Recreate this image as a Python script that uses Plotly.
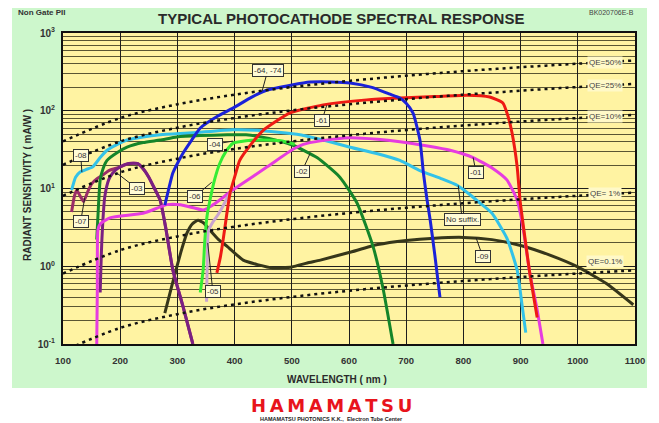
import plotly.graph_objects as go

# ---------------- data (wavelength nm, radiant sensitivity mA/W) ----------------
wl_6474 = [278, 285, 292, 300, 310, 325, 340, 370, 397, 430, 457, 500, 532, 570, 602, 640, 670, 689, 700, 712, 724, 730, 736, 742, 750, 759]
s_6474 = [6.1, 10, 15.8, 21, 28.6, 42, 60, 85, 108, 150, 185, 215, 234, 235, 228, 200, 165, 146, 125, 93, 42, 16, 7.5, 3.9, 1.4, 0.4]

wl_61 = [369, 375, 380, 386, 392, 400, 409, 430, 450, 497, 555, 631, 689, 750, 806, 846, 869, 878, 885, 894, 899, 908, 916, 929]
s_61 = [0.82, 1.3, 2.2, 4.5, 8.7, 14, 23, 38, 56, 94, 119, 138, 146, 152, 158, 150, 126, 85, 52, 19, 7.1, 2.2, 0.82, 0.22]

wl_01 = [159, 160, 161, 165, 182, 240, 282, 305, 330, 345, 360, 374, 392, 409, 457, 502, 520, 550, 602, 650, 689, 740, 777, 817, 852, 876, 894, 904, 916, 928, 939]
s_01 = [0.1, 0.5, 2.9, 3.5, 4.2, 4.8, 6.2, 6.2, 5.6, 5.3, 6.0, 7.1, 9.0, 11, 19, 32, 37, 41, 45, 43, 40, 35, 31, 25, 18, 12.9, 7.1, 3.2, 0.82, 0.3, 0.1]

wl_ns = [115, 122, 130, 140, 152, 165, 177, 195, 212, 240, 270, 327, 397, 439, 514, 560, 602, 650, 689, 724, 760, 789, 810, 829, 850, 876, 894, 902, 909]
s_ns = [9.5, 14, 16.3, 17.5, 19, 25, 31, 37, 42, 46, 49, 52, 57, 56, 49, 41, 34, 28, 23, 17, 13.5, 11, 8.5, 6.5, 4.8, 2.3, 0.89, 0.34, 0.14]

wl_02 = [159, 162, 165, 170, 177, 195, 212, 240, 270, 299, 340, 387, 420, 460, 502, 544, 584, 614, 642, 659, 677]
s_02 = [2.2, 6.0, 12.9, 18, 23, 29, 34, 39, 42, 46, 48, 49, 49, 44, 36, 25, 14, 6.5, 1.8, 0.54, 0.1]

wl_06 = [340, 345, 348, 352, 357, 365, 374, 385, 397, 420, 444, 480, 505]
s_06 = [0.46, 0.89, 2.2, 4.5, 7.1, 13, 21, 30, 38, 41, 42, 41, 37]

wl_05 = [351, 352, 354, 362, 371, 380, 388, 395]
s_05 = [0.35, 1.0, 2.8, 3.7, 4.6, 6.0, 7.8, 9.3]

wl_03 = [165, 168, 173, 180, 187, 200, 215, 230, 240, 250, 260, 270, 280, 292, 310, 327]
s_03 = [0.46, 2.2, 7.8, 13, 15.8, 19, 21, 21, 18, 14, 10, 7, 3.0, 0.9, 0.3, 0.1]

wl_07 = [115, 120, 124, 130, 136, 143, 150, 160, 170, 180, 190, 200, 215, 230, 240, 250, 260, 270, 280, 292, 310, 327]
s_07 = [5.0, 8.0, 9.5, 8.0, 6.8, 9.0, 11.5, 13.5, 15, 17, 18, 19, 21, 21, 18, 14, 10, 7, 3.0, 0.9, 0.3, 0.1]

wl_09 = [278, 290, 299, 308, 317, 326, 336, 346, 357, 372, 387, 415, 440, 467, 500, 527, 550, 600, 650, 700, 750, 800, 850, 900, 950, 1000, 1050, 1097]
s_09 = [0.25, 0.55, 0.98, 1.7, 2.7, 3.5, 3.9, 3.6, 2.9, 2.2, 1.8, 1.2, 1.05, 0.95, 0.98, 1.1, 1.2, 1.5, 1.9, 2.15, 2.3, 2.35, 2.2, 1.85, 1.4, 0.98, 0.6, 0.32]

# quantum-efficiency reference lines (mA/W at the given wavelengths)
wl_qe = [100, 200, 300, 400, 500, 600, 700, 800, 900, 1000, 1100]
qe50 = [40.3, 80.6, 121, 161, 202, 242, 282, 323, 363, 403, 444]
qe25 = [20.2, 40.3, 60.5, 80.6, 101, 121, 141, 161, 181, 202, 222]
qe10 = [8.06, 16.1, 24.2, 32.3, 40.3, 48.4, 56.5, 64.5, 72.6, 80.6, 88.7]
qe1 = [0.806, 1.61, 2.42, 3.23, 4.03, 4.84, 5.65, 6.45, 7.26, 8.06, 8.87]
qe01 = [0.0806, 0.161, 0.242, 0.323, 0.403, 0.484, 0.565, 0.645, 0.726, 0.806, 0.887]
qe_labels = ["QE=50%", "QE=25%", "QE=10%", "QE= 1%", "QE=0.1%"]

x_ticks = [100, 200, 300, 400, 500, 600, 700, 800, 900, 1000, 1100]
y_ticks = [0.1, 1, 10, 100, 1000]
y_ticktext = ["<b>10<sup>-1</sup></b>", "<b>10<sup>0</sup></b>", "<b>10<sup>1</sup></b>",
              "<b>10<sup>2</sup></b>", "<b>10<sup>3</sup></b>"]

# ---------------- figure ----------------
# the page body adds an 8px offset, so the figure is 8px smaller and
# reference page coordinates are shifted by 8px
OFF = 8
W, H = 659 - OFF, 423 - OFF
L, T = 63 - OFF, 33 - OFF
R = W - (635 - OFF)
B = H - (344 - OFF)
pw, ph = W - L - R, H - T - B


def px2paper(xp, yp):
    fx, fy = xp - OFF, yp - OFF
    return (fx - L) / pw, (H - B - fy) / ph


fig = go.Figure()

curves = [
    ("-09", wl_09, s_09, "#36361a"),
    ("-07", wl_07, s_07, "#9a2c68"),
    ("-03", wl_03, s_03, "#7a2082"),
    ("-08/No suffix", wl_ns, s_ns, "#33c2e8"),
    ("-02", wl_02, s_02, "#15852a"),
    ("-01", wl_01, s_01, "#e63ce0"),
    ("-05", wl_05, s_05, "#c9a4cf"),
    ("-06", wl_06, s_06, "#35ec35"),
    ("-61", wl_61, s_61, "#ee1a14"),
    ("-64,-74", wl_6474, s_6474, "#1b22d8"),
]
for name, xs, ys, col in curves:
    fig.add_trace(go.Scatter(x=xs, y=ys, mode="lines", name=name,
                             line=dict(color=col, width=3, shape="spline", smoothing=0.5),
                             hoverinfo="skip"))

for ys in [qe50, qe25, qe10, qe1, qe01]:
    fig.add_trace(go.Scatter(x=wl_qe, y=ys, mode="lines",
                             line=dict(color="#111", width=2.5, dash="3px,4px", shape="spline"),
                             hoverinfo="skip"))

# background panels
gx0, gy0 = px2paper(12, 4)
gx1, gy1 = px2paper(647, 388)
shapes = [
    dict(type="rect", xref="paper", yref="paper", x0=gx0, x1=gx1, y0=gy1, y1=gy0,
         fillcolor="#cdf7cc", line=dict(width=0), layer="below"),
    dict(type="rect", xref="paper", yref="paper", x0=0, x1=1, y0=0, y1=1,
         fillcolor="#fff3a2", line=dict(width=0), layer="below"),
]

ann = []


def ptext(xp, yp, text, size, color="#2a2a2a", family="Liberation Sans", xanchor="center", angle=0):
    ax_, ay_ = px2paper(xp, yp)
    ann.append(dict(x=ax_, y=ay_, xref="paper", yref="paper", showarrow=False,
                    xanchor=xanchor, yanchor="middle", textangle=angle, text=text,
                    font=dict(family=family, size=size, color=color)))


ptext(341, 18, "<b>TYPICAL PHOTOCATHODE SPECTRAL RESPONSE</b>", 15)
ptext(16, 13, "<b>Non Gate PII</b>", 8, "#333", xanchor="left")
ptext(636, 13, "BK020706E-B", 7, "#444", xanchor="right")
ptext(27, 185, "<b>RADIANT SENSITIVITY ( mA/W )</b>", 10, angle=-90)
ptext(337, 379, "<b>WAVELENGTH ( nm )</b>", 10)
ptext(331, 405, "<b>" + "\u2009".join("HAMAMATSU") + "</b>", 18, "#e8141c", family="DejaVu Sans")
ptext(331, 418.5, "<b>HAMAMATSU PHOTONICS K.K.,  Electron Tube Center</b>", 5.5, "#222")

# QE labels
qe_lab_y = [2.625, 2.33, 1.925, 0.93, 0.06]
for lab, yy in zip(qe_labels, qe_lab_y):
    ann.append(dict(x=1048, y=yy, xref="x", yref="y", showarrow=False, text=lab,
                    bgcolor="#fff9c8", borderpad=1,
                    font=dict(family="Liberation Sans", size=8, color="#444")))

# callouts: (text, tip x, tip log-y, text x, text log-y)
callouts = [
    ("-64, -74", 448, 2.25, 458, 2.52),
    ("-61", 561, 2.07, 553, 1.88),
    ("-04", 397, 1.61, 366, 1.57),
    ("-02", 532, 1.45, 518, 1.225),
    ("-01", 817, 1.40, 822, 1.21),
    ("-06", 360, 1.08, 331, 0.90),
    ("-05", 353, 0.30, 362, -0.33),
    ("-03", 194, 1.20, 229, 1.00),
    ("-07", 138, 0.88, 131, 0.58),
    ("-08", 133, 1.21, 131, 1.43),
    ("No suffix.", 791, 1.04, 798, 0.595),
    ("-09", 822, 0.37, 834, 0.12),
]
for t, x, y, axv, ayv in callouts:
    ann.append(dict(x=x, y=y, xref="x", yref="y", ax=axv, ay=ayv, axref="x", ayref="y",
                    text=t, showarrow=True, arrowhead=0, arrowwidth=1, arrowcolor="#222",
                    bgcolor="#fffbd6", bordercolor="#333", borderwidth=1, borderpad=1,
                    font=dict(family="Liberation Sans", size=8, color="#333")))

fig.update_layout(
    width=W, height=H,
    margin=dict(l=L, r=R, t=T, b=B, pad=0),
    paper_bgcolor="white", plot_bgcolor="rgba(0,0,0,0)",
    showlegend=False, shapes=shapes, annotations=ann,
    font=dict(family="Liberation Sans", color="#333"),
)
fig.update_xaxes(range=[100, 1100], tickmode="array", tickvals=x_ticks,
                 ticktext=["<b>%d</b>" % v for v in x_ticks],
                 showgrid=True, gridcolor="#1e1e1e", gridwidth=1.4,
                 showline=True, linecolor="#111", linewidth=2, mirror=True,
                 ticks="outside", ticklen=7, tickcolor="rgba(0,0,0,0)",
                 tickfont=dict(size=9.5, color="#333"), zeroline=False)
fig.update_yaxes(type="log", range=[-1, 3], tickmode="array", tickvals=y_ticks,
                 ticktext=y_ticktext,
                 showgrid=True, gridcolor="#1e1e1e", gridwidth=1.4,
                 minor=dict(showgrid=True, dtick="D1", gridcolor="#5a5632", gridwidth=1),
                 showline=True, linecolor="#111", linewidth=2, mirror=True,
                 ticks="outside", ticklen=4, tickcolor="rgba(0,0,0,0)",
                 tickfont=dict(size=10, color="#333"), zeroline=False)

fig.write_html("out.html")
